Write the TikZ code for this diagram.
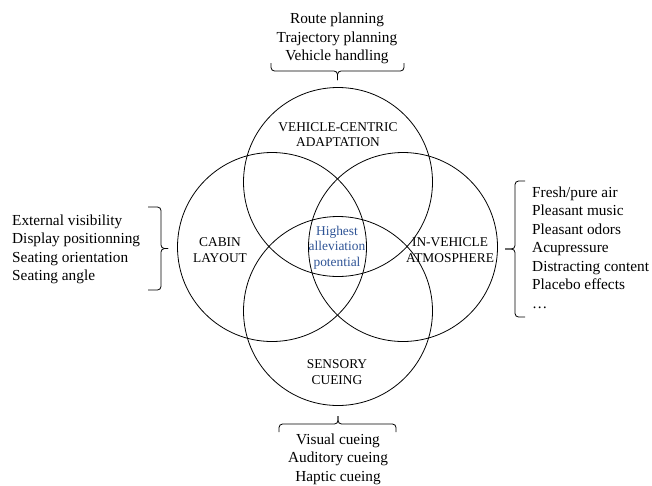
\documentclass[tikz,border=0pt]{standalone}
\usepackage{fontspec}
\setmainfont{Liberation Serif}
\definecolor{hlblue}{RGB}{47,84,150}
\begin{document}
\begin{tikzpicture}[x=1pt,y=-1pt,
  venn/.style={circle,draw,line width=0.8pt,minimum size=189pt,inner sep=0pt,outer sep=0pt},
  setlabel/.style={font=\fontsize{13.4}{15.7}\selectfont,align=center,inner sep=0pt},
  listtext/.style={font=\fontsize{15.3}{18.5}\selectfont,inner sep=0pt},
  bracestyle/.style={draw,line width=0.8pt,rounded corners=3.5pt}]
\useasboundingbox (0,0) rectangle (652,485);
% circles
\node[venn] (ctop) at (338,182) {};
\node[venn] (cleft) at (272,247) {};
\node[venn] (cright) at (403,247) {};
\node[venn] (cbot) at (338,311) {};
% set labels
\node[setlabel] (ltop) at (338,134.5) {VEHICLE-CENTRIC\\ADAPTATION};
\node[setlabel] (lleft) at (220,250) {CABIN\\LAYOUT};
\node[setlabel] (lright) at (450,250) {IN-VEHICLE\\ATMOSPHERE};
\node[setlabel] (lbot) at (337,372) {SENSORY\\CUEING};
\node[setlabel,text=hlblue] (lcenter) at (337,247.5) {Highest\\alleviation\\potential};
% lists
\node[listtext,align=center] (ttop) at (337,38.5) {Route planning\\Trajectory planning\\Vehicle handling};
\node[listtext,align=left,anchor=west] (tleft) at (12,249.5) {External visibility\\Display positionning\\Seating orientation\\Seating angle};
\node[listtext,align=left,anchor=west] (tright) at (532,247.5) {Fresh/pure air\\Pleasant music\\Pleasant odors\\Acupressure\\Distracting content\\Placebo effects\\\dots};
\node[listtext,align=center] (tbot) at (338,459) {Visual cueing\\Auditory cueing\\Haptic cueing};
% top brace
\coordinate (bt1) at (271,63);
\coordinate (bt2) at (404,63);
\coordinate (btm) at (337.5,71);
\coordinate (btt) at (337.5,80);
\path[bracestyle] (bt1) |- (btm) -- (btt);
\path[bracestyle] (bt2) |- (btm) -- (btt);
% left brace
\coordinate (bl1) at (148,207);
\coordinate (bl2) at (148,290);
\coordinate (blm) at (161,248.5);
\coordinate (blt) at (168,248.5);
\path[bracestyle] (bl1) -| (blm) -- (blt);
\path[bracestyle] (bl2) -| (blm) -- (blt);
% right brace
\coordinate (br1) at (525,181);
\coordinate (br2) at (525,317);
\coordinate (brm) at (515,249);
\coordinate (brt) at (505,249);
\path[bracestyle] (br1) -| (brm) -- (brt);
\path[bracestyle] (br2) -| (brm) -- (brt);
% bottom brace
\coordinate (bb1) at (279,432);
\coordinate (bb2) at (396,432);
\coordinate (bbm) at (338,424);
\coordinate (bbt) at (338,416);
\path[bracestyle] (bb1) |- (bbm) -- (bbt);
\path[bracestyle] (bb2) |- (bbm) -- (bbt);
\end{tikzpicture}
\end{document}
